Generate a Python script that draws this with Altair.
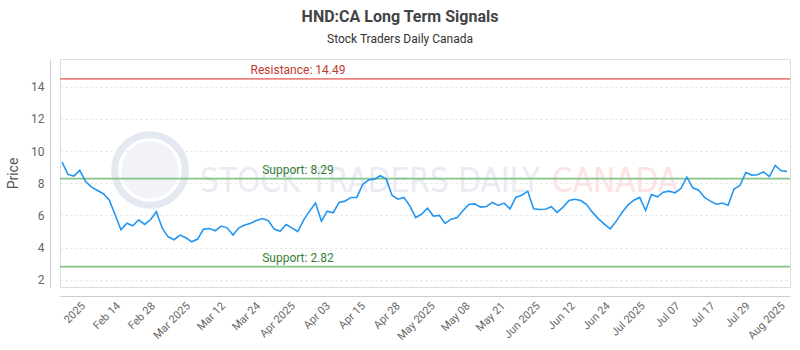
import altair as alt
import pandas as pd
import numpy as np

# ---- data ----
prices = [
    9.32, 8.55, 8.45, 8.80, 8.11, 7.76, 7.55, 7.35, 6.97, 6.04, 5.11, 5.52, 5.36, 5.73, 5.44, 5.73,
    6.23, 5.21, 4.67, 4.49, 4.78, 4.61, 4.36, 4.53, 5.15, 5.19, 5.05, 5.34, 5.23, 4.78, 5.23, 5.40,
    5.52, 5.69, 5.81, 5.67, 5.15, 5.02, 5.44, 5.23, 5.00, 5.73, 6.27, 6.77, 5.65, 6.27, 6.17, 6.81,
    6.89, 7.12, 7.12, 7.93, 8.20, 8.26, 8.47, 8.26, 7.24, 7.01, 7.12, 6.60, 5.87, 6.08, 6.45,
    5.96, 6.00, 5.50, 5.77, 5.85, 6.29, 6.68, 6.72, 6.52, 6.56, 6.81, 6.62, 6.77, 6.41, 7.14, 7.26,
    7.51, 6.41, 6.37, 6.39, 6.54, 6.19, 6.52, 6.93, 7.01, 6.93, 6.68, 6.19, 5.79, 5.46,
    5.17, 5.63, 6.19, 6.64, 6.95, 7.12, 6.31, 7.30, 7.16, 7.45, 7.51, 7.41, 7.68, 8.38, 7.72, 7.57,
    7.12, 6.89, 6.70, 6.77, 6.64, 7.64, 7.86, 8.67, 8.51, 8.53, 8.71, 8.42, 9.11, 8.78, 8.74,
]
tick_labels = ["2025", "Feb 14", "Feb 28", "Mar 2025", "Mar 12", "Mar 24", "Apr 2025", "Apr 03",
               "Apr 15", "Apr 28", "May 2025", "May 08", "May 21", "Jun 2025", "Jun 12", "Jun 24",
               "Jul 2025", "Jul 07", "Jul 17", "Jul 29", "Aug 2025"]
y_ticks = [2, 4, 6, 8, 10, 12, 14]
level_names = ["Resistance: 14.49", "Support: 8.29", "Support: 2.82"]
level_values = [14.49, 8.29, 2.82]
level_line_colors = ["#e8857f", "#86c386", "#86c386"]
level_text_colors = ["#c0392b", "#3a7d3a", "#3a7d3a"]

n = len(prices)
df = pd.DataFrame({"i": np.arange(n), "price": prices})
tick_pos = [float(v) for v in np.linspace(3.6, 122.3, len(tick_labels))]
label_map = {str(round(p, 4)): t for p, t in zip(tick_pos, tick_labels)}
expr = "{" + ",".join(f"'{k}':'{v}'" for k, v in label_map.items()) + "}"
levels = pd.DataFrame({"name": level_names, "value": level_values,
                       "lc": level_line_colors, "tc": level_text_colors})

W, H = 730, 228
xs = alt.Scale(domain=[-0.35, 123.5], nice=False, zero=False)
ys = alt.Scale(domain=[1.55, 15.73], nice=False, zero=False)
FONT = "Roboto"

y_axis = alt.Axis(values=y_ticks, title="Price", grid=True,
                  gridColor="#e2e2e2", gridDash=[2, 3], ticks=False, offset=10,
                  domainColor="#cccccc", labelPadding=6, labelFontSize=12,
                  labelColor="#666666", labelFont=FONT, titleFont=FONT,
                  labelOverlap=False, labelFlush=False, labelBound=False,
                  titleFontSize=14, titleFontWeight="normal", titleColor="#555555",
                  titlePadding=10)

dummy = pd.DataFrame({"a": [0]})
logo = alt.Chart(dummy).mark_point(
    shape="circle", size=5000, filled=False, stroke="#e3e8f1", strokeWidth=7, opacity=1
).encode(x=alt.value(90), y=alt.value(111))
logo_in = alt.Chart(dummy).mark_point(
    shape="circle", size=3300, filled=True, color="#f1f3f8", opacity=1
).encode(x=alt.value(90), y=alt.value(111))
wm1 = alt.Chart(dummy).mark_text(
    text="STOCK TRADERS DAILY", font="DejaVu Sans Condensed", fontSize=33, color="#e9ecf3",
    align="left", baseline="alphabetic"
).encode(x=alt.value(140), y=alt.value(133))
wm2 = alt.Chart(dummy).mark_text(
    text="CANADA", font="DejaVu Sans Condensed", fontSize=33, color="#fde3e3",
    align="left", baseline="alphabetic"
).encode(x=alt.value(492), y=alt.value(133))

rules = alt.Chart(levels).mark_rule(strokeWidth=1.8).encode(
    y=alt.Y("value:Q", scale=ys, axis=y_axis),
    color=alt.Color("lc:N", scale=None),
)
rule_text = alt.Chart(levels).mark_text(
    font=FONT, fontSize=12, align="center", baseline="bottom", dy=-2
).encode(
    x=alt.value(238),
    y=alt.Y("value:Q", scale=ys, axis=y_axis),
    text="name:N",
    color=alt.Color("tc:N", scale=None),
)

line = alt.Chart(df).mark_line(color="#2196f3", strokeWidth=1.6).encode(
    x=alt.X("i:Q", scale=xs,
            axis=alt.Axis(values=tick_pos, labelExpr=f"{expr}[format(datum.value, '.4~f')] || ''",
                          title=None, grid=False, ticks=False, offset=9, domainColor="#cccccc",
                          labelAngle=-45, labelAlign="right", labelBaseline="middle",
                          labelPadding=8, labelFontSize=11, labelColor="#666666", labelFont=FONT,
                          labelOverlap=False, labelBound=False, labelFlush=False)),
    y=alt.Y("price:Q", scale=ys, axis=y_axis),
)

chart = alt.layer(logo, logo_in, wm1, wm2, rules, rule_text, line).properties(
    width=W, height=H,
    title=alt.TitleParams(
        "HND:CA Long Term Signals", subtitle="Stock Traders Daily Canada",
        font=FONT, fontSize=16, fontWeight="bold", color="#444444",
        subtitleFont=FONT, subtitleFontSize=12, subtitleColor="#333333", subtitlePadding=9,
        anchor="middle", dx=-25, offset=14,
    ),
    autosize=alt.AutoSizeParams(type="none"),
    padding={"left": 60, "top": 59, "right": 10, "bottom": 63},
).configure_view(stroke="#888888", strokeWidth=1).configure(background="white")

chart.save("out.html", embed_options={"renderer": "svg", "actions": False})
